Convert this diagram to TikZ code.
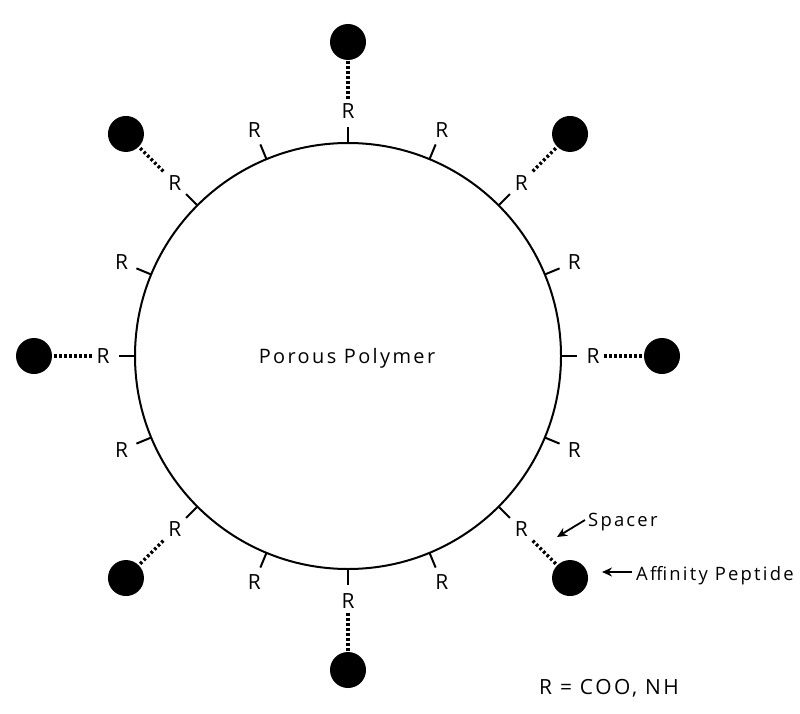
\documentclass[tikz,border=0pt]{standalone}
\usepackage{fontspec}
\setmainfont[LetterSpace=12]{Open Sans}
\usetikzlibrary{arrows.meta}
\tikzset{
  rlab/.style={inner sep=0pt, outer sep=5bp, font=\fontsize{21}{23}\selectfont},
  ball/.style={circle, fill=black, draw=none, minimum size=36bp, inner sep=0pt},
  spacer/.style={line width=3.5bp, dash pattern=on 2.6bp off 2.4bp},
  tick/.style={line width=2bp},
  poly/.style={line width=2bp},
  note/.style={inner sep=0pt, anchor=west, font=\fontsize{18.5}{21}\selectfont},
  pointer/.style={line width=1.8bp, -{Stealth[length=10bp,width=9bp]}}
}
\begin{document}
\begin{tikzpicture}[x=1bp,y=-1bp]
\useasboundingbox (0,0) rectangle (800,714);
\begin{scope}[shift={(348,356)}]
  \node[circle, poly, draw, minimum size=426bp, inner sep=0pt] (poly) at (0,0) {};
  \node[inner sep=0pt, font=\fontsize{20}{22}\selectfont] (lab) at (-1,2) {Porous Polymer};
  \foreach \i in {0,...,15}{
    \pgfmathsetmacro{\a}{\i*22.5}
    \coordinate (t\i) at (\a:213);
    \coordinate (u\i) at (\a:229);
    \draw[tick] (t\i) -- (u\i);
    \node[rlab] (r\i) at (\a:245) {R};
  }
  \foreach \i in {0,2,...,14}{
    \pgfmathsetmacro{\a}{\i*22.5}
    \node[ball] (b\i) at (\a:314) {};
    \draw[spacer] (r\i) -- (b\i);
  }
\end{scope}
\node[note] (sp) at (588,522) {Spacer};
\node[note] (ap) at (636,576) {Affinity Peptide};
\coordinate (spt) at (557,537);
\coordinate (apt) at (602,572);
\coordinate (sps) at (585,520);
\coordinate (aps) at (632,572);
\draw[pointer] (sps) -- (spt);
\draw[pointer] (aps) -- (apt);
\node[inner sep=0pt, font=\fontsize{21}{23}\selectfont] (def) at (609,688) {R = COO, NH};
\end{tikzpicture}
\end{document}
